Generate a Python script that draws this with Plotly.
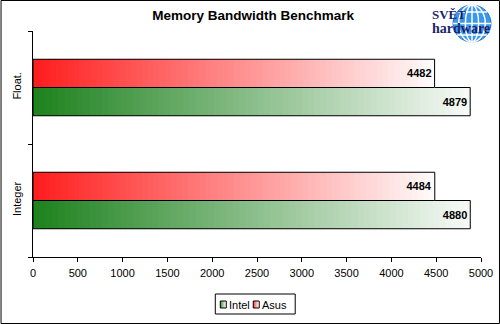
import plotly.graph_objects as go

# ---- data ----
categories = ["Float.", "Integer"]
intel_values = [4879, 4880]
asus_values = [4482, 4484]
series_names = ["Intel", "Asus"]
x_ticks = [0, 500, 1000, 1500, 2000, 2500, 3000, 3500, 4000, 4500, 5000]
chart_title = "Memory Bandwidth Benchmark"

# ---- layout geometry (pixels) ----
W, H = 500, 324
L, R, T, B = 32.5, 19, 31, 67
pw, ph = W - L - R, H - T - B


def px(x):
    return (x - L) / pw


def py(y):
    return 1 - (y - T) / ph


def mix(c0, c1, t):
    return "rgb(%d,%d,%d)" % tuple(round(a + (b - a) * t) for a, b in zip(c0, c1))


GREEN = ((30, 130, 30), (246, 249, 246))
RED = ((255, 30, 30), (255, 250, 250))

fig = go.Figure()
N = 70


def add_series(name, values, c0, c1):
    for i in range(N):
        t = i / (N - 1)
        fig.add_trace(go.Bar(
            y=categories, x=[v - v * i / N for v in values], base=[v * i / N for v in values],
            orientation="h", offsetgroup=name, name=name,
            marker=dict(color=mix(c0, c1, t), line=dict(width=0)),
            showlegend=False, hoverinfo="skip"))
    fig.add_trace(go.Bar(
        y=categories, x=values, orientation="h", offsetgroup=name, name=name,
        marker=dict(color="rgba(0,0,0,0)", line=dict(color="black", width=1)),
        text=[str(v) for v in values], textposition="inside", insidetextanchor="end",
        textfont=dict(family="Liberation Sans", size=11, color="black", weight="bold"),
        showlegend=False, hoverinfo="skip"))


add_series(series_names[0], intel_values, *GREEN)
add_series(series_names[1], asus_values, *RED)

shapes = [
    dict(type="rect", xref="paper", yref="paper", x0=px(0.5), x1=px(W - 0.5),
         y0=py(H - 0.5), y1=py(0.5), line=dict(color="black", width=1), layer="above"),
]

# ---- logo globe ----
gx0, gx1, gy0, gy1 = 453, 491, 5, 42
shapes.append(dict(type="circle", xref="paper", yref="paper", x0=px(gx0), x1=px(gx1),
                   y0=py(gy1), y1=py(gy0), fillcolor="#3a98ec",
                   line=dict(color="#1f6fc8", width=1), layer="above"))
cx = (gx0 + gx1) / 2
for w in (0.35, 0.7):
    hw = (gx1 - gx0) / 2 * w
    shapes.append(dict(type="circle", xref="paper", yref="paper", x0=px(cx - hw), x1=px(cx + hw),
                       y0=py(gy1), y1=py(gy0), line=dict(color="white", width=1.5), layer="above"))
shapes.append(dict(type="line", xref="paper", yref="paper", x0=px(cx), x1=px(cx),
                   y0=py(gy1), y1=py(gy0), line=dict(color="white", width=1.5), layer="above"))
for yy, hw in ((12, 15), (23.5, 19), (35, 15)):
    shapes.append(dict(type="line", xref="paper", yref="paper", x0=px(cx - hw), x1=px(cx + hw),
                       y0=py(yy), y1=py(yy), line=dict(color="white", width=1.5), layer="above"))

# ---- custom legend ----
shapes.append(dict(type="rect", xref="paper", yref="paper", x0=px(215), x1=px(295),
                   y0=py(314), y1=py(294), line=dict(color="black", width=1),
                   fillcolor="white", layer="above"))
legend_items = [(series_names[0], 220, GREEN), (series_names[1], 253, RED)]
annotations = []
for name, sx, (c0, c1) in legend_items:
    steps = 6
    for k in range(steps):
        shapes.append(dict(type="rect", xref="paper", yref="paper",
                           x0=px(sx + k), x1=px(sx + k + 1.05), y0=py(308), y1=py(301),
                           fillcolor=mix(c0, c1, k / (steps - 1)), line=dict(width=0),
                           layer="above"))
    shapes.append(dict(type="rect", xref="paper", yref="paper", x0=px(sx), x1=px(sx + 6),
                       y0=py(308), y1=py(301), line=dict(color="black", width=1),
                       layer="above"))
    annotations.append(dict(text=name, xref="paper", yref="paper", x=px(sx + 7), y=py(304.5),
                            xanchor="left", yanchor="middle", showarrow=False,
                            font=dict(family="Liberation Sans", size=11, color="black")))

annotations += [
    dict(text="SVĚT", xref="paper", yref="paper", x=px(431), y=py(14),
         xanchor="left", yanchor="middle", showarrow=False, height=12, borderpad=0,
         font=dict(family="Liberation Serif", size=13, color="#1b1f6b", weight="bold")),
    dict(text="hardware", xref="paper", yref="paper", x=px(431), y=py(28),
         xanchor="left", yanchor="middle", showarrow=False, height=12, borderpad=0,
         font=dict(family="Liberation Serif", size=14, color="#1b1f6b", weight="bold")),
]

fig.update_layout(
    width=W, height=H,
    margin=dict(l=L, r=R, t=T, b=B, autoexpand=False),
    paper_bgcolor="white", plot_bgcolor="white",
    barmode="group", bargap=0.5, bargroupgap=0,
    font=dict(family="Liberation Sans", size=11, color="black"),
    title=dict(text=chart_title, x=px(253), xref="paper", xanchor="center",
               y=1 - 15 / H, yanchor="middle",
               font=dict(family="Liberation Sans", size=13.5, color="black", weight="bold")),
    showlegend=False,
    xaxis=dict(range=[0, 5000], tickvals=x_ticks, ticks="outside", ticklen=4,
               tickcolor="black", showline=True, linecolor="black", linewidth=1,
               showgrid=False, zeroline=False, tickfont=dict(size=11),
               ticklabelstandoff=2, automargin=False),
    yaxis=dict(type="category", categoryorder="array", categoryarray=categories[::-1],
               tickangle=-90, ticks="outside", tickson="boundaries", ticklen=4,
               tickcolor="black", showline=True, linecolor="black", linewidth=1,
               showgrid=False, zeroline=False, tickfont=dict(size=11),
               ticklabelstandoff=7, automargin=False),
    shapes=shapes,
    annotations=annotations,
)

fig.write_html("out.html")
